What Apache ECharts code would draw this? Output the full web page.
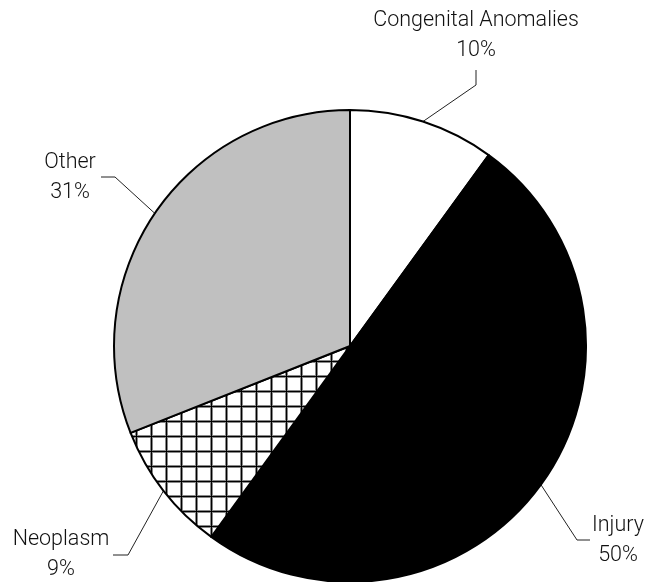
<!DOCTYPE html>
<html>
<head>
<meta charset="utf-8">
<script src="https://cdn.jsdelivr.net/npm/echarts@6/dist/echarts.min.js"></script>
<style>
  html, body { margin: 0; padding: 0; background: #fff; }
  #chart { width: 650px; height: 582px; }
</style>
</head>
<body>
<div id="chart"></div>
<script>
  var categories = ['Congenital Anomalies', 'Injury', 'Neoplasm', 'Other'];
  var percents = [10, 50, 9, 31];

  // grid hatch for Neoplasm
  var tile = document.createElement('canvas');
  tile.width = 15;
  tile.height = 15;
  var ctx = tile.getContext('2d');
  ctx.fillStyle = '#fff';
  ctx.fillRect(0, 0, 15, 15);
  ctx.fillStyle = '#888';
  ctx.fillRect(0, 0, 3, 15);
  ctx.fillRect(0, 0, 15, 3);
  ctx.fillStyle = '#000';
  ctx.fillRect(1, 0, 1, 15);
  ctx.fillRect(0, 1, 15, 1);

  var fills = ['#ffffff', '#000000', {image: tile, repeat: 'repeat'}, '#c0c0c0'];

  // where each label sits, and how its leader bends (offsets from label centre)
  var labelSpots = [
    {x: 476, y: 36, bend: [[0, 49], [0, 34]]},
    {x: 618, y: 541, bend: [[-41, -1], [-28, -1]]},
    {x: 61, y: 555, bend: [[67, 0], [52, 0]]},
    {x: 70, y: 178, bend: [[45, -1], [31, -1]]}
  ];

  var chart = echarts.init(document.getElementById('chart'));
  chart.setOption({
    animation: false,
    series: [{
      type: 'pie',
      center: [350, 346],
      radius: 236,
      startAngle: 90,
      clockwise: true,
      avoidLabelOverlap: false,
      data: categories.map(function (name, i) {
        return {name: name, value: percents[i], itemStyle: {color: fills[i]}};
      }),
      itemStyle: {
        borderColor: '#000',
        borderWidth: 2
      },
      label: {
        show: true,
        position: 'outside',
        formatter: '{b}\n{c}%',
        fontFamily: 'Roboto',
        fontWeight: 300,
        fontSize: 21.5,
        lineHeight: 30,
        color: '#111',
        overflow: 'none'
      },
      labelLine: {
        show: true,
        length: 15,
        length2: 15,
        lineStyle: {color: '#222', width: 1}
      },
      labelLayout: function (params) {
        var s = labelSpots[params.dataIndex];
        var p0 = params.labelLinePoints[0];
        return {
          x: s.x,
          y: s.y,
          align: 'center',
          verticalAlign: 'middle',
          labelLinePoints: [
            p0,
            [s.x + s.bend[0][0], s.y + s.bend[0][1]],
            [s.x + s.bend[1][0], s.y + s.bend[1][1]]
          ]
        };
      }
    }]
  });
</script>
</body>
</html>
